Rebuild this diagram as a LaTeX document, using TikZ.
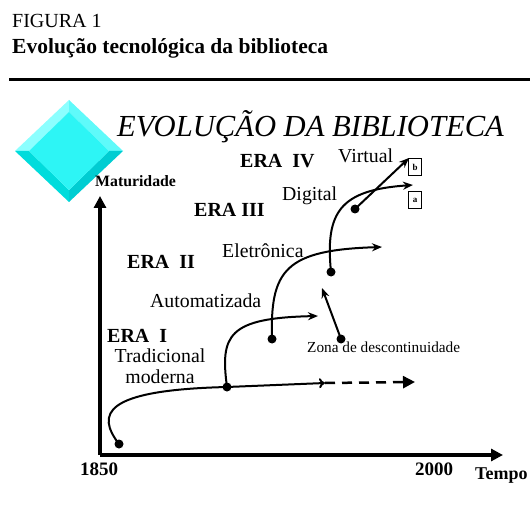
\documentclass[tikz,border=0pt]{standalone}
\usepackage{fontspec}
\setmainfont{Liberation Serif}
\usetikzlibrary{arrows.meta,positioning}

\definecolor{ciano}{RGB}{45,245,245}
\definecolor{cianoclaro}{RGB}{140,255,255}
\definecolor{cianomedio}{RGB}{95,250,250}
\definecolor{cianoescuro}{RGB}{0,220,220}
\definecolor{cianosombra}{RGB}{0,205,210}

\tikzset{
  dot/.style={circle, fill=black, inner sep=0pt, minimum size=9pt},
  era/.style={font=\bfseries\fontsize{20}{21}\selectfont, anchor=base west, inner sep=0pt},
  fase/.style={font=\fontsize{19.8}{21}\selectfont, anchor=base west, inner sep=0pt},
  curva/.style={line width=2pt, -{Stealth[length=10pt,width=8pt]}},
  eixo/.style={line width=3.2pt, -{Triangle[length=12pt,width=12pt]}},
  caixa/.style={draw, line width=0.7pt, minimum width=13pt, minimum height=17pt,
    inner sep=0pt, font=\bfseries\fontsize{9}{9}\selectfont}
}

\begin{document}
\begin{tikzpicture}[x=1pt,y=-1pt]
\useasboundingbox (0,0) rectangle (530,505);

% Header
\node[anchor=base west, inner sep=0pt, font=\fontsize{20}{22}\selectfont] (fig) at (12,28) {FIGURA 1};
\node[anchor=base west, inner sep=0pt, font=\bfseries\fontsize{21.5}{23}\selectfont] (legenda) at (12,54) {Evolução tecnológica da biblioteca};
\draw[line width=3pt] (9,80) -- (530,80);

% Diamond
\fill[cianoclaro] (15,151) -- (69,100) -- (69,112) -- (29,151) -- cycle;
\fill[cianomedio] (69,100) -- (123,151) -- (109,151) -- (69,112) -- cycle;
\fill[cianosombra] (123,151) -- (69,202) -- (69,190) -- (109,151) -- cycle;
\fill[cianoescuro] (69,202) -- (15,151) -- (29,151) -- (69,190) -- cycle;
\fill[ciano] (29,151) -- (69,112) -- (109,151) -- (69,190) -- cycle;

% Title
\node[anchor=base west, inner sep=0pt, font=\itshape\fontsize{30.6}{32}\selectfont] (titulo) at (117,137) {EVOLUÇÃO DA BIBLIOTECA};

% Axes
\coordinate (origem) at (100,455);
\coordinate (topo) at (100,196);
\coordinate (fim) at (503,455);
\draw[eixo] (origem) -- (topo);
\draw[eixo] (origem) -- (fim);
\node[anchor=base west, inner sep=0pt, font=\bfseries\fontsize{15.8}{17}\selectfont] (mat) at (95,187) {Maturidade};
\node[anchor=base west, inner sep=0pt, font=\bfseries\fontsize{19}{20}\selectfont] (ano1) at (80,475) {1850};
\node[anchor=base west, inner sep=0pt, font=\bfseries\fontsize{19}{20}\selectfont] (ano2) at (415,475) {2000};
\node[anchor=base west, inner sep=0pt, font=\bfseries\fontsize{18}{20}\selectfont] (tempo) at (475,479) {Tempo};

% Eras and stages
\node[era] (era4) at (240,168) {ERA\ \ IV};
\node[era] (era3) at (194,217) {ERA III};
\node[era] (era2) at (127,269) {ERA\ \ II};
\node[era] (era1) at (107,342) {ERA\ \ I};
\node[fase] (virtual) at (338,163) {Virtual};
\node[fase] (digital) at (282,201) {Digital};
\node[fase] (eletr) at (222,258) {Eletrônica};
\node[fase] (autom) at (150,307) {Automatizada};
\node[anchor=base, inner sep=0pt, align=center, font=\fontsize{19.8}{21}\selectfont] (trad) at (160,383) {Tradicional\\moderna};
\node[anchor=base west, inner sep=0pt, font=\fontsize{15.3}{17}\selectfont] (zona) at (307,352) {Zona de descontinuidade};

% Dots
\node[dot] (d0) at (119,444) {};
\node[dot] (d1) at (227,387) {};
\node[dot] (d2) at (272,339) {};
\node[dot] (d3) at (331,272) {};
\node[dot] (d4) at (355,209) {};
\node[dot] (dz) at (341,339) {};

% Boxes
\node[caixa] (b) at (415,167) {b};
\node[caixa] (a) at (415,200) {a};

% Curves
\coordinate (t1) at (325,383);
\coordinate (t1b) at (415,382);
\coordinate (t2) at (318,316);
\coordinate (t3) at (382,247);
\coordinate (t4) at (413,185);
\coordinate (t5) at (409,158);
\coordinate (tz) at (322,288);
\draw[line width=2pt, -{To[length=6pt,width=10pt]}] (d0.center) .. controls (96,414) and (103,390) .. (d1.center) -- (t1);
\draw[line width=2.5pt, dash pattern=on 10pt off 7pt, -{Triangle[length=12pt,width=12pt]}] (t1) -- (t1b);
\draw[curva] (d1.center) .. controls (220,335) and (228,318) .. (t2);
\draw[curva] (d2.center) .. controls (270,270) and (285,250) .. (t3);
\draw[curva] (d3.center) .. controls (325,212) and (340,190) .. (t4);
\draw[curva] (d4.center) -- (t5);
\draw[curva] (dz.center) -- (tz);
\end{tikzpicture}
\end{document}
